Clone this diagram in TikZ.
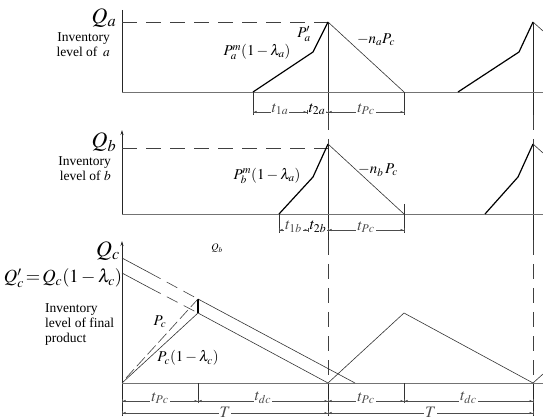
\documentclass[tikz,border=0pt]{standalone}
\usepackage{mathptmx}
\usepackage{fontspec}
\setmainfont{Liberation Serif}
\usetikzlibrary{arrows.meta,calc}

\begin{document}
\begin{tikzpicture}[x=1pt, y=-1pt, every node/.style={inner sep=1pt},
  axis/.style={line width=0.8pt, black!85},
  base/.style={line width=0.8pt, black!55},
  ramp/.style={line width=1.2pt},
  slope/.style={line width=0.6pt, black!80},
  guide/.style={line width=0.6pt, black!75, dash pattern=on 15pt off 9pt},
  dimline/.style={line width=0.5pt, black!70,
    {Bar[width=4pt]Latex[length=3pt,width=2.2pt]}-{Latex[length=3pt,width=2.2pt]Bar[width=4pt]}},
  dimlbl/.style={fill=white, font=\fontsize{16}{16}\selectfont, yshift=3pt},
  biglbl/.style={font=\fontsize{22}{22}\selectfont},
  midlbl/.style={font=\fontsize{15}{15}\selectfont},
  txtlbl/.style={font=\fontsize{13.5}{15}\selectfont}]

  \useasboundingbox (0,0) rectangle (543,419);

  % shared verticals through all three panels
  \foreach \vx in {328,533} {
    \draw[axis] (\vx,22) -- (\vx,115);
    \draw[guide] (\vx,115) -- (\vx,144);
    \draw[axis] (\vx,144) -- (\vx,240);
    \draw[guide] (\vx,240) -- (\vx,383);
    \draw[axis] (\vx,383) -- (\vx,416);
  }

  % inventory of a
  \draw[axis] (122,10) -- (122,92);
  \draw[base] (122,92) -- (543,92);
  \node[biglbl] (qa) at (104,18) {$Q_a$};
  \node[txtlbl, align=right, anchor=east] (inva) at (111,45) {Inventory\\level of \,$a$};
  \draw[guide] (122,22) -- (328,22);
  \draw[ramp] (253,92) -- (313,52) -- (328,22);
  \draw[slope] (328,22) -- (404,92);
  \draw[ramp] (458,92) -- (519,52) -- (533,22);
  \draw[slope] (533,22) -- (543,31);
  \node[midlbl] (pam) at (257,52) {$P_a^m(1-\lambda_a)$};
  \node[midlbl] (pa) at (304,34) {$P_a'$};
  \node[midlbl] (na) at (376,40) {$-n_aP_c$};
  \draw[slope] (253,92) -- (253,115);
  \draw[slope] (404,92) -- (404,115);
  \draw[dimline] (253,112) -- node[dimlbl] (t1a) {$t_{1a}$} (307,112);
  \draw[dimline] (307,112) -- (328,112);
  \node[dimlbl] (t2a) at (317,112) {$t_{2a}$};
  \draw[dimline] (328,112) -- node[dimlbl] (tpa) {$t_{Pc}$} (404,112);

  % inventory of b
  \draw[axis, -{Stealth[length=5pt,width=3pt]}] (122,214) -- (122,130);
  \draw[base] (122,214) -- (543,214);
  \node[biglbl] (qb) at (104,142) {$Q_b$};
  \node[txtlbl, align=right, anchor=east] (invb) at (112,169) {Inventory\\level of $b$};
  \draw[guide] (122,148) -- (328,148);
  \draw[ramp] (279,214) -- (313,177) -- (328,144);
  \draw[slope] (328,144) -- (404,214);
  \draw[ramp] (485,214) -- (518,177) -- (533,144);
  \draw[slope] (533,144) -- (543,153);
  \node[midlbl] (pbm) at (267,176) {$P_b^m(1-\lambda_a)$};
  \node[midlbl] (nb) at (378,170) {$-n_b\,P_c$};
  \draw[slope] (279,214) -- (279,233);
  \draw[slope] (404,204) -- (404,233);
  \draw[dimline] (279,230) -- node[dimlbl] (t1b) {$t_{1b}$} (308,230);
  \draw[dimline] (308,230) -- (328,230);
  \node[dimlbl] (t2b) at (318,230) {$t_{2b}$};
  \draw[dimline] (328,230) -- node[dimlbl] (tpb) {$t_{Pc}$} (404,230);

  % final product
  \draw[axis, -{Stealth[length=5pt,width=3pt]}] (122,416) -- (122,241);
  \draw[base] (122,383) -- (543,383);
  \node[biglbl] (qc) at (108,251) {$Q_c$};
  \node[font=\fontsize{18.5}{18.5}\selectfont] (qcp) at (63,278) {$Q_c'\!=\!Q_c(1-\lambda_c)$};
  \node[font=\fontsize{10}{10}\selectfont] (qbs) at (217,248) {$Q_b$};
  \node[txtlbl, align=left, anchor=west] (invc) at (44,325) {Inventory\\level of final\\product};
  % stock lines, dashed where they pass the labels
  \draw[slope] (122,258) -- (150,273);
  \draw[guide, dash pattern=on 12pt off 7pt] (150,273) -- (198,299);
  \draw[slope] (198,299) -- (355,383);
  \draw[slope] (122,273) -- (150,288);
  \draw[guide, dash pattern=on 12pt off 7pt] (150,288) -- (198,313);
  \draw[slope] (198,313) -- (328,383);
  \draw[ramp] (198,299) -- (198,313);
  \draw[slope] (122,383) -- (198,313);
  \draw[guide, dash pattern=on 12pt off 4pt] (126,378) -- (198,299);
  \node[midlbl] (pc) at (160,322) {$P_c$};
  \node[midlbl] (pcl) at (188,358) {$P_c(1-\lambda_c)$};
  \draw[slope] (328,383) -- (404,313) -- (533,383) -- (543,374);
  \draw[slope] (198,383) -- (198,403);
  \draw[slope] (404,383) -- (404,403);
  \draw[dimline] (122,401) -- node[dimlbl] (tp1) {$t_{Pc}$} (198,401);
  \draw[dimline] (198,401) -- node[dimlbl] (td1) {$t_{dc}$} (328,401);
  \draw[dimline] (328,401) -- node[dimlbl] (tp2) {$t_{Pc}$} (404,401);
  \draw[dimline] (404,401) -- node[dimlbl] (td2) {$t_{dc}$} (533,401);
  \draw[dimline] (122,413) -- node[dimlbl, yshift=-2pt] (T1) {$T$} (328,413);
  \draw[dimline] (328,413) -- node[dimlbl, yshift=-2pt] (T2) {$T$} (533,413);
\end{tikzpicture}
\end{document}
